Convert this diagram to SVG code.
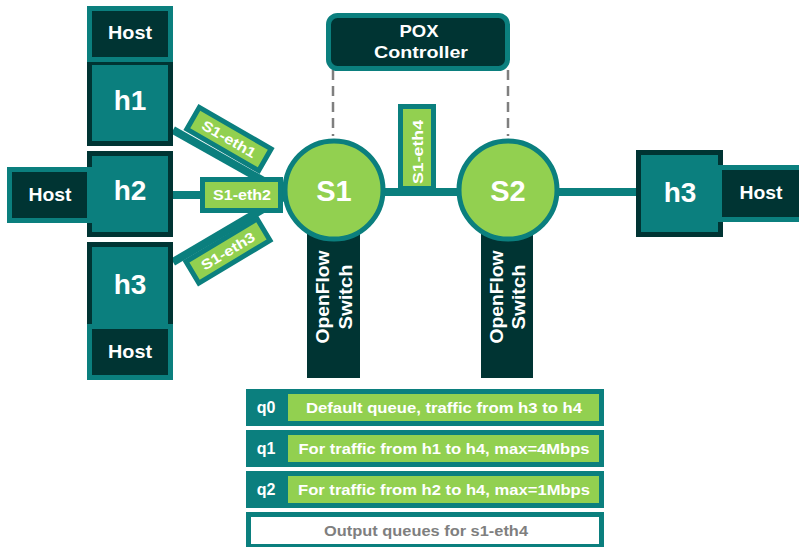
<svg xmlns="http://www.w3.org/2000/svg" width="799" height="547" viewBox="0 0 799 547">
  <style>
    .t { font-family: "Liberation Sans", Arial, sans-serif; font-weight: bold; fill: #ffffff; text-anchor: middle; }
    .host { fill: #003433; stroke: #0b7f7e; stroke-width: 5; }
    .hbox { fill: #0b7f7e; stroke: #003433; stroke-width: 5; }
    .link { stroke: #0b7f7e; stroke-width: 8; fill: none; }
    .port { fill: #92d050; stroke: #0b7f7e; stroke-width: 5; }
    .sw { fill: #92d050; stroke: #0b7f7e; stroke-width: 5; }
    .swbase { fill: #003433; }
    .ctrl { stroke: #7f7f7f; stroke-width: 2.5; stroke-dasharray: 10 6; fill: none; }
    .qrow { fill: #0b7f7e; }
    .qcell { fill: #92d050; }
  </style>

  <rect width="799" height="547" fill="#ffffff"/>

  <!-- links between hosts and switches -->
  <g id="connectors">
    <line class="link" x1="173" y1="130" x2="292" y2="197"/>
    <line class="link" x1="173" y1="195" x2="292" y2="195"/>
    <line class="link" x1="173" y1="262" x2="292" y2="192"/>
    <line class="link" x1="385" y1="192" x2="460" y2="192" stroke-width="9"/>
    <line class="link" x1="556" y1="192" x2="640" y2="192" stroke-width="9"/>
    <line class="ctrl" x1="333" y1="70" x2="333" y2="136"/>
    <line class="ctrl" x1="508" y1="70" x2="508" y2="136"/>
  </g>

  <!-- switch ports -->
  <g id="port-s1-eth1" transform="translate(229,139) rotate(30)">
    <rect class="port" x="-41.5" y="-12.5" width="83" height="25"/>
    <text class="t" x="0" y="5" font-size="14" textLength="60" lengthAdjust="spacingAndGlyphs">S1-eth1</text>
  </g>
  <g id="port-s1-eth2">
    <rect class="port" x="202.5" y="179.5" width="78" height="31"/>
    <text class="t" x="242" y="200" font-size="14" textLength="58" lengthAdjust="spacingAndGlyphs">S1-eth2</text>
  </g>
  <g id="port-s1-eth3" transform="translate(228,251) rotate(-31)">
    <rect class="port" x="-41.5" y="-12.5" width="83" height="25"/>
    <text class="t" x="0" y="5" font-size="14" textLength="60" lengthAdjust="spacingAndGlyphs">S1-eth3</text>
  </g>
  <g id="port-s1-eth4">
    <rect class="port" x="400.5" y="106.5" width="33" height="82"/>
    <text class="t" transform="translate(423,152) rotate(-90)" font-size="14" textLength="64" lengthAdjust="spacingAndGlyphs">S1-eth4</text>
  </g>

  <!-- left hosts -->
  <g id="h1">
    <rect class="hbox" x="89.5" y="62.5" width="81" height="81"/>
    <text class="t" x="130" y="110" font-size="28">h1</text>
  </g>
  <g id="host-h1">
    <rect class="host" x="89.5" y="8.5" width="81" height="51"/>
    <text class="t" x="130" y="39" font-size="18" textLength="44" lengthAdjust="spacingAndGlyphs">Host</text>
  </g>

  <g id="h2">
    <rect class="hbox" x="89.5" y="153.5" width="81" height="81"/>
    <text class="t" x="130" y="200" font-size="28">h2</text>
  </g>
  <g id="host-h2">
    <rect class="host" x="9.5" y="169.5" width="80" height="51"/>
    <text class="t" x="50" y="201" font-size="18" textLength="43" lengthAdjust="spacingAndGlyphs">Host</text>
  </g>

  <g id="h3-left">
    <rect class="hbox" x="89.5" y="244.5" width="81" height="82"/>
    <text class="t" x="130" y="294" font-size="28">h3</text>
  </g>
  <g id="host-h3-left">
    <rect class="host" x="89.5" y="326.5" width="81" height="51"/>
    <text class="t" x="130" y="358" font-size="18" textLength="44" lengthAdjust="spacingAndGlyphs">Host</text>
  </g>

  <!-- controller -->
  <g id="pox">
    <rect x="328.5" y="15.5" width="179" height="53" rx="9" fill="#003433" stroke="#0b7f7e" stroke-width="5"/>
    <text class="t" x="419" y="37" font-size="17" textLength="39" lengthAdjust="spacingAndGlyphs">POX</text>
    <text class="t" x="421" y="58" font-size="17" textLength="94" lengthAdjust="spacingAndGlyphs">Controller</text>
  </g>

  <!-- switches -->
  <g id="s1">
    <rect class="swbase" x="307" y="220" width="53" height="158"/>
    <text class="t" transform="translate(329,297) rotate(-90)" font-size="18" textLength="93" lengthAdjust="spacingAndGlyphs">OpenFlow</text>
    <text class="t" transform="translate(352,297) rotate(-90)" font-size="18" textLength="65" lengthAdjust="spacingAndGlyphs">Switch</text>
    <circle class="sw" cx="334" cy="190" r="49"/>
    <text class="t" x="334" y="201" font-size="29">S1</text>
  </g>

  <g id="s2">
    <rect class="swbase" x="481" y="220" width="52" height="158"/>
    <text class="t" transform="translate(503,297) rotate(-90)" font-size="18" textLength="93" lengthAdjust="spacingAndGlyphs">OpenFlow</text>
    <text class="t" transform="translate(525,297) rotate(-90)" font-size="18" textLength="65" lengthAdjust="spacingAndGlyphs">Switch</text>
    <circle class="sw" cx="508" cy="190" r="49"/>
    <text class="t" x="508" y="201" font-size="29">S2</text>
  </g>

  <!-- right host -->
  <g id="h3-right">
    <rect class="hbox" x="638.5" y="152.5" width="82" height="82"/>
    <text class="t" x="680" y="202" font-size="28">h3</text>
  </g>
  <g id="host-h3-right">
    <rect class="host" x="719.5" y="167.5" width="86" height="52"/>
    <text class="t" x="761" y="199" font-size="18" textLength="43" lengthAdjust="spacingAndGlyphs">Host</text>
  </g>

  <!-- output queues for s1-eth4 -->
  <g id="q0">
    <rect class="qrow" x="246" y="389" width="358" height="37"/>
    <rect class="qcell" x="288" y="394" width="311" height="27"/>
    <text class="t" x="266" y="413" font-size="16">q0</text>
    <text class="t" x="444" y="413" font-size="15" textLength="276" lengthAdjust="spacingAndGlyphs">Default queue, traffic from h3 to h4</text>
  </g>
  <g id="q1">
    <rect class="qrow" x="246" y="430" width="358" height="37"/>
    <rect class="qcell" x="288" y="435" width="311" height="27"/>
    <text class="t" x="266" y="454" font-size="16">q1</text>
    <text class="t" x="444" y="454" font-size="15" textLength="291" lengthAdjust="spacingAndGlyphs">For traffic from h1 to h4, max=4Mbps</text>
  </g>
  <g id="q2">
    <rect class="qrow" x="246" y="471" width="358" height="37"/>
    <rect class="qcell" x="288" y="476" width="311" height="27"/>
    <text class="t" x="266" y="495" font-size="16">q2</text>
    <text class="t" x="444" y="495" font-size="15" textLength="292" lengthAdjust="spacingAndGlyphs">For traffic from h2 to h4, max=1Mbps</text>
  </g>
  <g id="queues-caption">
    <rect x="248.5" y="514.5" width="353" height="32" fill="#ffffff" stroke="#0b7f7e" stroke-width="5"/>
    <text class="t" x="426" y="536" font-size="15" style="fill:#7f7f7f" textLength="204" lengthAdjust="spacingAndGlyphs">Output queues for s1-eth4</text>
  </g>
</svg>
